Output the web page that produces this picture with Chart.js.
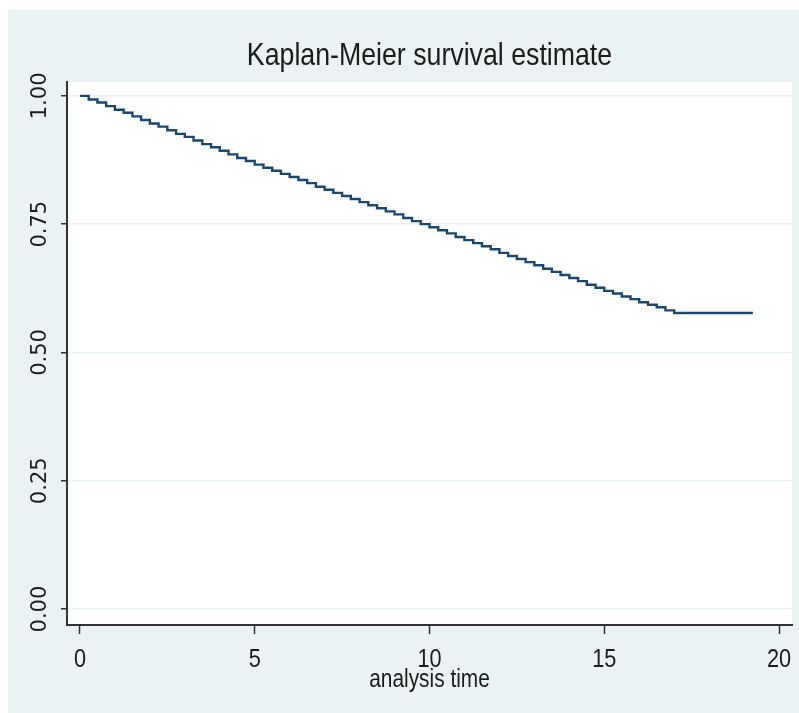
<!DOCTYPE html>
<html>
<head>
<meta charset="utf-8">
<script src="https://cdn.jsdelivr.net/npm/chart.js@4/dist/chart.umd.min.js"></script>
<style>
  html, body { margin: 0; padding: 0; background: #ffffff; }
  #wrap { width: 799px; height: 713px; position: relative; }
</style>
</head>
<body>
<div id="wrap"><canvas id="km" width="799" height="713"></canvas></div>
<script>
// Kaplan-Meier step points: analysis time and survival estimate after each event
const times = [
  0, 0.25, 0.5, 0.75, 1, 1.25, 1.5, 1.75, 2, 2.25, 2.5, 2.75, 3, 3.25, 3.5, 3.75,
  4, 4.25, 4.5, 4.75, 5, 5.25, 5.5, 5.75, 6, 6.25, 6.5, 6.75, 7, 7.25, 7.5, 7.75,
  8, 8.25, 8.5, 8.75, 9, 9.25, 9.5, 9.75, 10, 10.25, 10.5, 10.75, 11, 11.25, 11.5, 11.75,
  12, 12.25, 12.5, 12.75, 13, 13.25, 13.5, 13.75, 14, 14.25, 14.5, 14.75, 15, 15.25, 15.5, 15.75,
  16, 16.25, 16.5, 16.75, 17, 19.25
];
const survival = [
  1.000, 0.993, 0.987, 0.980, 0.973, 0.967, 0.960, 0.953, 0.946, 0.940, 0.933, 0.926, 0.920, 0.913, 0.906, 0.900,
  0.893, 0.886, 0.879, 0.873, 0.866, 0.860, 0.854, 0.848, 0.842, 0.836, 0.830, 0.823, 0.817, 0.811, 0.805, 0.799,
  0.793, 0.787, 0.781, 0.775, 0.769, 0.762, 0.756, 0.750, 0.744, 0.738, 0.732, 0.725, 0.719, 0.713, 0.707, 0.701,
  0.694, 0.688, 0.682, 0.676, 0.670, 0.663, 0.657, 0.651, 0.645, 0.639, 0.632, 0.626, 0.620, 0.615, 0.609, 0.604,
  0.598, 0.593, 0.588, 0.582, 0.577, 0.577
];
const xTickValues = [0, 5, 10, 15, 20];
const yTickValues = [0, 0.25, 0.5, 0.75, 1];

const PANEL = '#eaf2f3';
const INK = '#1c1c1c';
const AXIS = '#333333';
const NARROW = '"Liberation Sans", "Arial", sans-serif';

const canvas = document.getElementById('km');
const ctx2d = canvas.getContext('2d');

// Condensed lettering: text set in Liberation Sans is squeezed horizontally
// around its own anchor point, so alignment (left/center/right) is preserved.
const SQUEEZE = 0.835;
const plainFillText = ctx2d.fillText;
ctx2d.fillText = function (text, x, y, maxWidth) {
  if (this.font.indexOf('Liberation Sans') === -1) {
    return maxWidth === undefined ? plainFillText.call(this, text, x, y)
                                  : plainFillText.call(this, text, x, y, maxWidth);
  }
  this.save();
  this.translate(x, y);
  this.scale(SQUEEZE, 1);
  plainFillText.call(this, text, 0, 0);
  this.restore();
};

// Outer light panel and white plot region
const backdrop = {
  id: 'backdrop',
  beforeDraw(chart) {
    const { ctx, chartArea: a, width, height } = chart;
    ctx.save();
    ctx.fillStyle = '#ffffff';
    ctx.fillRect(0, 0, width, height);
    ctx.fillStyle = PANEL;
    ctx.fillRect(8, 10, width - 8, height - 10);
    ctx.fillStyle = '#ffffff';
    ctx.fillRect(a.left, a.top, a.right - a.left, a.bottom - a.top);
    ctx.restore();
  }
};

new Chart(canvas, {
  type: 'scatter',
  data: {
    datasets: [{
      label: 'Survivor function',
      data: times.map((t, i) => ({ x: t, y: survival[i] })),
      showLine: true,
      stepped: true,
      borderColor: '#1a476f',
      borderWidth: 2.4,
      pointRadius: 0,
      fill: false
    }]
  },
  options: {
    responsive: false,
    animation: false,
    layout: { padding: { left: 0, right: 7, top: 10, bottom: 0 } },
    plugins: {
      legend: { display: false },
      tooltip: { enabled: false },
      title: {
        display: true,
        text: 'Kaplan-Meier survival estimate',
        fullSize: false,
        color: INK,
        font: { family: NARROW, size: 32, weight: 'normal', lineHeight: 1.2 },
        padding: { top: 26.5, bottom: 7.1 }
      }
    },
    scales: {
      x: {
        type: 'linear',
        min: -0.37,
        max: 20.37,
        afterBuildTicks(scale) { scale.ticks = xTickValues.map(v => ({ value: v })); },
        afterFit(scale) { scale.height = 88; scale.paddingLeft = 0; scale.paddingRight = 0; },
        grid: { display: true, drawOnChartArea: false, drawTicks: true, tickLength: 9, tickColor: AXIS, tickWidth: 1.5 },
        border: { display: true, color: AXIS, width: 2 },
        ticks: {
          autoSkip: false, maxRotation: 0, minRotation: 0, padding: 10, color: INK,
          font: { family: NARROW, size: 26 }
        },
        title: {
          display: true, text: 'analysis time', color: INK,
          font: { family: NARROW, size: 25, lineHeight: 1.2 },
          padding: { top: 0, bottom: 17.5 }
        }
      },
      y: {
        type: 'linear',
        min: -0.031,
        max: 1.027,
        afterBuildTicks(scale) { scale.ticks = yTickValues.map(v => ({ value: v })); },
        afterFit(scale) { scale.width = 67; scale.paddingTop = 0; scale.paddingBottom = 0; },
        grid: { display: true, color: PANEL, lineWidth: 1.5, drawTicks: true, tickLength: 6, tickColor: AXIS, tickWidth: 1.5 },
        border: { display: true, color: AXIS, width: 2 },
        ticks: {
          autoSkip: false, minRotation: 90, maxRotation: 90, crossAlign: 'center', padding: -3, color: INK,
          font: { family: '"DejaVu Sans", sans-serif', size: 21 },
          callback: v => v.toFixed(2)
        }
      }
    }
  },
  plugins: [backdrop]
});
</script>
</body>
</html>
